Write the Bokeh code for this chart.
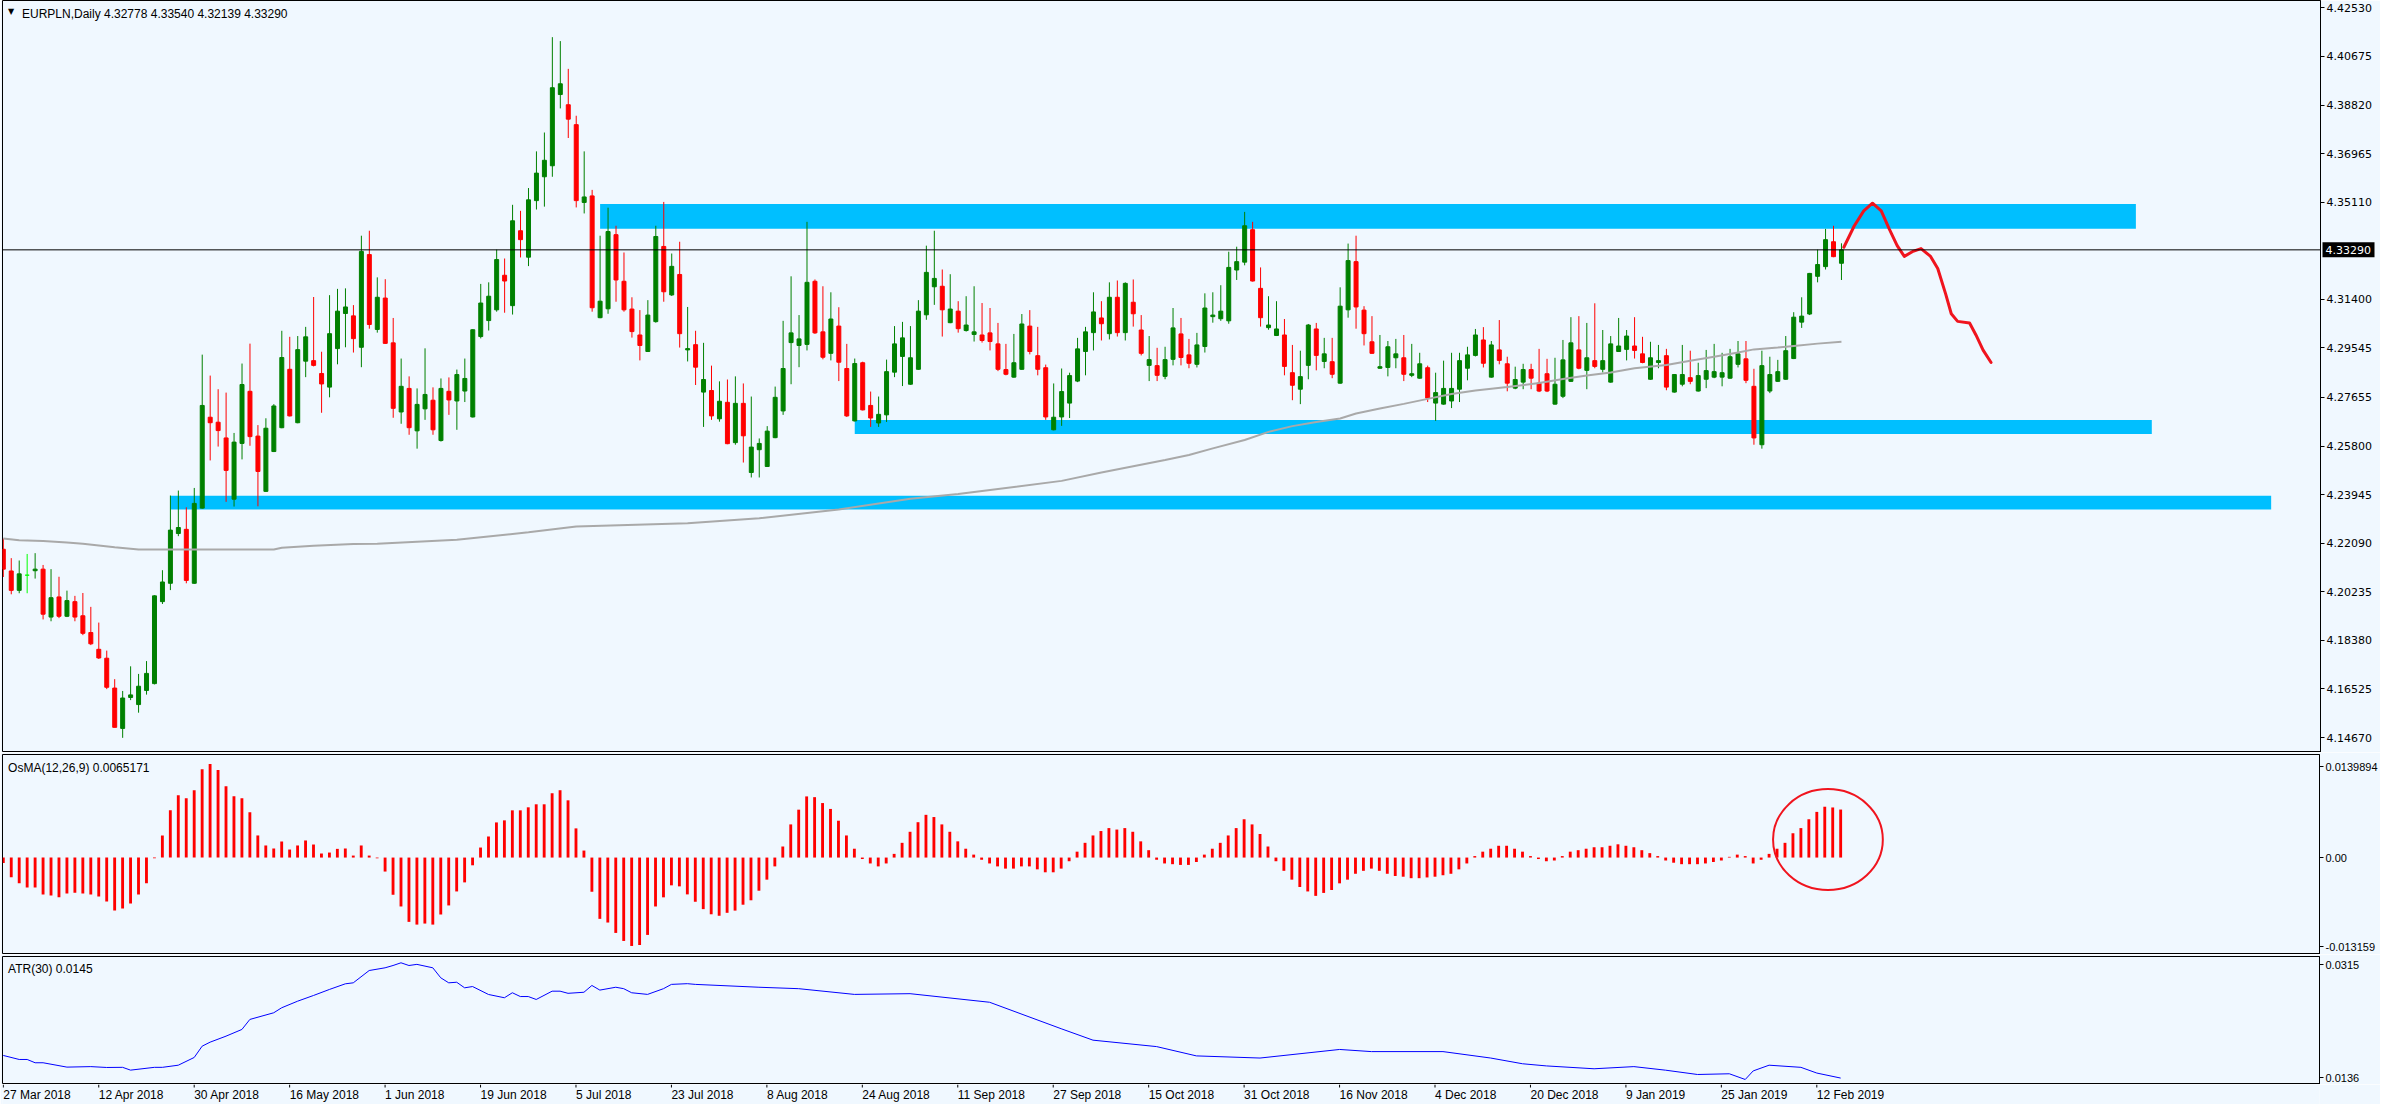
from bokeh.plotting import figure
from bokeh.layouts import column, row
from bokeh.models import (Range1d, FixedTicker, PrintfTickFormatter, Label,
                          ColumnDataSource, Span)
from bokeh.embed import file_html
from bokeh.resources import INLINE
from bokeh.core.properties import value

# ---------------- data ----------------
symbol_header = "EURPLN,Daily  4.32778 4.33540 4.32139 4.33290"
osma_header = "OsMA(12,26,9) 0.0065171"
atr_header = "ATR(30) 0.0145"
last_price = 4.33290
last_price_text = "4.33290"

opens = [4.2186, 4.2103, 4.2029, 4.2087, 4.2104, 4.2110, 4.1927, 4.2004, 4.1930, 4.1986,
         4.1932, 4.1868, 4.1804, 4.1770, 4.1656, 4.1502, 4.1620, 4.1593, 4.1647, 4.1673,
         4.1986, 4.2056, 4.2246, 4.2262, 4.2056, 4.2343, 4.2690, 4.2671, 4.2611, 4.2377,
         4.2590, 4.2789, 4.2618, 4.2407, 4.2559, 4.2650, 4.2873, 4.2669, 4.2904, 4.2906,
         4.2857, 4.2805, 4.2952, 4.3086, 4.3077, 4.2957, 4.3311, 4.3025, 4.3145, 4.2974,
         4.2710, 4.2800, 4.2638, 4.2722, 4.2755, 4.2601, 4.2789, 4.2752, 4.2790, 4.2691,
         4.2998, 4.3059, 4.3100, 4.3232, 4.3116, 4.3402, 4.3301, 4.3517, 4.3608, 4.3650,
         4.3922, 4.3883, 4.3807, 4.3510, 4.3535, 4.3070, 4.3104, 4.3387, 4.3209, 4.3103,
         4.3004, 4.2941, 4.3055, 4.3342, 4.3157, 4.3235, 4.2947, 4.2967, 4.2786, 4.2792,
         4.2684, 4.2747, 4.2593, 4.2743, 4.2479, 4.2566, 4.2502, 4.2612, 4.2714, 4.2975,
         4.2964, 4.2968, 4.3209, 4.3016, 4.2934, 4.3038, 4.2876, 4.2676, 4.2898, 4.2735,
         4.2668, 4.2699, 4.2862, 4.2922, 4.2816, 4.2873, 4.3081, 4.3188, 4.3190, 4.3051,
         4.3095, 4.3021, 4.3006, 4.3004, 4.3012, 4.2970, 4.2872, 4.2843, 4.2873, 4.3038,
         4.2925, 4.2879, 4.2642, 4.2691, 4.2744, 4.2828, 4.2941, 4.3013, 4.3069, 4.3009,
         4.3148, 4.3013, 4.3129, 4.3023, 4.2888, 4.2887, 4.2846, 4.2911, 4.3008, 4.2928,
         4.2892, 4.2960, 4.3074, 4.3066, 4.3058, 4.3252, 4.3282, 4.3406, 4.3182, 4.3032,
         4.3002, 4.3004, 4.2860, 4.2797, 4.2888, 4.3027, 4.2903, 4.2902, 4.2820, 4.3100,
         4.3284, 4.3099, 4.2978, 4.2877, 4.2880, 4.2917, 4.2917, 4.2850, 4.2839, 4.2879,
         4.2744, 4.2740, 4.2752, 4.2797, 4.2877, 4.2926, 4.2985, 4.2843, 4.2947, 4.2894,
         4.2801, 4.2824, 4.2872, 4.2820, 4.2856, 4.2740, 4.2770, 4.2827, 4.2947, 4.2869,
         4.2906, 4.2873, 4.2824, 4.2941, 4.2949, 4.2962, 4.2932, 4.2835, 4.2899, 4.2925,
         4.2786, 4.2816, 4.2841, 4.2790, 4.2835, 4.2843, 4.2843, 4.2839, 4.2892, 4.2913,
         4.2808, 4.2585, 4.2790, 4.2827, 4.2835, 4.2914, 4.3053, 4.3084, 4.3228, 4.3265,
         4.3360, 4.32778]
highs = [4.2227, 4.2152, 4.2143, 4.2168, 4.2171, 4.2126, 4.2110, 4.2081, 4.2028, 4.2008,
         4.2019, 4.1966, 4.1906, 4.1799, 4.1690, 4.1645, 4.1739, 4.1710, 4.1759, 4.2010,
         4.2106, 4.2391, 4.2410, 4.2346, 4.2420, 4.2929, 4.2849, 4.2797, 4.2784, 4.2630,
         4.2895, 4.2971, 4.2660, 4.2686, 4.2740, 4.3020, 4.2997, 4.3000, 4.3035, 4.3149,
         4.2940, 4.3156, 4.3180, 4.3182, 4.3118, 4.3383, 4.3402, 4.3224, 4.3217, 4.3069,
         4.2914, 4.2846, 4.2800, 4.2953, 4.2804, 4.2838, 4.2842, 4.2872, 4.2914, 4.3026,
         4.3199, 4.3205, 4.3330, 4.3296, 4.3501, 4.3478, 4.3565, 4.3705, 4.3777, 4.4141,
         4.4126, 4.4020, 4.3841, 4.3705, 4.3558, 4.3383, 4.3490, 4.3421, 4.3319, 4.3148,
         4.3099, 4.3137, 4.3421, 4.3512, 4.3315, 4.3360, 4.3111, 4.3020, 4.2974, 4.2887,
         4.2827, 4.2834, 4.2846, 4.2819, 4.2769, 4.2609, 4.2656, 4.2807, 4.3058, 4.3228,
         4.3080, 4.3436, 4.3216, 4.3190, 4.3167, 4.3110, 4.2970, 4.2914, 4.2902, 4.2788,
         4.2769, 4.2910, 4.3038, 4.3054, 4.3038, 4.3137, 4.3345, 4.3402, 4.3254, 4.3236,
         4.3133, 4.3152, 4.3190, 4.3126, 4.3107, 4.3050, 4.2970, 4.3008, 4.3084, 4.3099,
         4.3035, 4.2891, 4.2819, 4.2876, 4.2860, 4.2993, 4.3035, 4.3167, 4.3133, 4.3205,
         4.3212, 4.3205, 4.3216, 4.3080, 4.3000, 4.2955, 4.2959, 4.3107, 4.3069, 4.2989,
         4.3012, 4.3163, 4.3167, 4.3194, 4.3322, 4.3341, 4.3474, 4.3436, 4.3262, 4.3152,
         4.3133, 4.3065, 4.2966, 4.2944, 4.3046, 4.3050, 4.2993, 4.2993, 4.3186, 4.3353,
         4.3383, 4.3114, 4.3076, 4.3004, 4.2981, 4.2989, 4.3004, 4.2970, 4.2936, 4.2887,
         4.2860, 4.2906, 4.2936, 4.2936, 4.2959, 4.3027, 4.3034, 4.2981, 4.3061, 4.2921,
         4.2883, 4.2894, 4.2894, 4.2951, 4.2913, 4.2917, 4.2985, 4.3072, 4.3076, 4.3050,
         4.3125, 4.3023, 4.3000, 4.3069, 4.3023, 4.3072, 4.2997, 4.2978, 4.2966, 4.2951,
         4.2855, 4.2966, 4.2944, 4.2898, 4.2947, 4.2970, 4.2936, 4.2951, 4.2981, 4.2981,
         4.2875, 4.2944, 4.2921, 4.2909, 4.3000, 4.3091, 4.3148, 4.3241, 4.3330, 4.3409,
         4.3421, 4.33540]
lows = [4.2080, 4.2014, 4.2018, 4.2018, 4.2074, 4.1918, 4.1911, 4.1923, 4.1927, 4.1911,
        4.1858, 4.1820, 4.1767, 4.1652, 4.1506, 4.1466, 4.1610, 4.1562, 4.1631, 4.1670,
        4.1977, 4.2030, 4.2236, 4.2056, 4.2054, 4.2341, 4.2525, 4.2578, 4.2367, 4.2349,
        4.2529, 4.2581, 4.2350, 4.2405, 4.2557, 4.2648, 4.2693, 4.2667, 4.2843, 4.2884,
        4.2707, 4.2766, 4.2892, 4.2957, 4.2937, 4.2881, 4.3028, 4.3013, 4.2970, 4.2688,
        4.2665, 4.2623, 4.2570, 4.2680, 4.2623, 4.2597, 4.2699, 4.2642, 4.2748, 4.2689,
        4.2991, 4.3021, 4.3093, 4.3089, 4.3082, 4.3300, 4.3267, 4.3483, 4.3494, 4.3608,
        4.3869, 4.3756, 4.3491, 4.3468, 4.3093, 4.3068, 4.3085, 4.3131, 4.3093, 4.2994,
        4.2907, 4.2939, 4.3051, 4.3131, 4.3153, 4.2956, 4.2903, 4.2813, 4.2653, 4.2680,
        4.2673, 4.2587, 4.2585, 4.2517, 4.2460, 4.2460, 4.2500, 4.2610, 4.2699, 4.2816,
        4.2881, 4.2945, 4.3008, 4.2911, 4.2907, 4.2828, 4.2691, 4.2674, 4.2716, 4.2653,
        4.2653, 4.2672, 4.2843, 4.2809, 4.2814, 4.2871, 4.3062, 4.3119, 4.2998, 4.3049,
        4.3013, 4.3017, 4.2979, 4.2975, 4.2945, 4.2866, 4.2850, 4.2841, 4.2871, 4.2930,
        4.2850, 4.2680, 4.2640, 4.2657, 4.2687, 4.2824, 4.2850, 4.2945, 4.2983, 4.2987,
        4.2998, 4.2983, 4.3036, 4.2926, 4.2828, 4.2828, 4.2835, 4.2888, 4.2888, 4.2877,
        4.2880, 4.2937, 4.3051, 4.3058, 4.3047, 4.3214, 4.3270, 4.3208, 4.3036, 4.3024,
        4.3000, 4.2850, 4.2755, 4.2740, 4.2835, 4.2869, 4.2877, 4.2839, 4.2818, 4.3070,
        4.3028, 4.2964, 4.2932, 4.2875, 4.2846, 4.2877, 4.2828, 4.2843, 4.2837, 4.2748,
        4.2676, 4.2738, 4.2725, 4.2748, 4.2831, 4.2922, 4.2880, 4.2841, 4.2892, 4.2789,
        4.2797, 4.2797, 4.2797, 4.2786, 4.2786, 4.2738, 4.2763, 4.2825, 4.2873, 4.2797,
        4.2877, 4.2861, 4.2822, 4.2939, 4.2907, 4.2914, 4.2896, 4.2833, 4.2877, 4.2793,
        4.2784, 4.2808, 4.2816, 4.2788, 4.2801, 4.2839, 4.2808, 4.2837, 4.2880, 4.2820,
        4.2585, 4.2570, 4.2782, 4.2825, 4.2833, 4.2912, 4.3031, 4.3080, 4.3205, 4.3254,
        4.3301, 4.32139]
closes = [4.2110, 4.2029, 4.2092, 4.2087, 4.2110, 4.1938, 4.2001, 4.1930, 4.1990, 4.1927,
          4.1865, 4.1825, 4.1771, 4.1659, 4.1506, 4.1618, 4.1630, 4.1663, 4.1712, 4.2008,
          4.2061, 4.2259, 4.2269, 4.2067, 4.2361, 4.2735, 4.2669, 4.2639, 4.2487, 4.2595,
          4.2815, 4.2616, 4.2483, 4.2648, 4.2733, 4.2918, 4.2695, 4.2948, 4.2997, 4.2888,
          4.2817, 4.3009, 4.3095, 4.3111, 4.2990, 4.3323, 4.3044, 4.3148, 4.2972, 4.2724,
          4.2808, 4.2650, 4.2739, 4.2777, 4.2642, 4.2800, 4.2756, 4.2853, 4.2838, 4.3024,
          4.3126, 4.3152, 4.3292, 4.3210, 4.3440, 4.3368, 4.3520, 4.3622, 4.3671, 4.3948,
          4.3963, 4.3828, 4.3517, 4.3531, 4.3108, 4.3133, 4.3399, 4.3214, 4.3100, 4.3017,
          4.2964, 4.3080, 4.3380, 4.3169, 4.3266, 4.3009, 4.2952, 4.2881, 4.2834, 4.2695,
          4.2751, 4.2589, 4.2743, 4.2619, 4.2576, 4.2590, 4.2637, 4.2766, 4.2876, 4.3012,
          4.2989, 4.3205, 4.3012, 4.2919, 4.3065, 4.2900, 4.2695, 4.2895, 4.2718, 4.2687,
          4.2701, 4.2864, 4.2970, 4.2993, 4.2917, 4.3095, 4.3243, 4.3220, 4.3100, 4.3103,
          4.3028, 4.3042, 4.3016, 4.2983, 4.2979, 4.2873, 4.2854, 4.2898, 4.3046, 4.2941,
          4.2873, 4.2691, 4.2690, 4.2788, 4.2849, 4.2951, 4.3016, 4.3092, 4.3047, 4.3148,
          4.3013, 4.3201, 4.3085, 4.2934, 4.2910, 4.2850, 4.2910, 4.3031, 4.2918, 4.2896,
          4.2966, 4.3107, 4.3080, 4.3095, 4.3262, 4.3284, 4.3421, 4.3210, 4.3070, 4.3042,
          4.3027, 4.2884, 4.2812, 4.2845, 4.3042, 4.2926, 4.2932, 4.2854, 4.3114, 4.3288,
          4.3111, 4.3009, 4.2934, 4.2883, 4.2959, 4.2932, 4.2854, 4.2856, 4.2894, 4.2763,
          4.2784, 4.2800, 4.2800, 4.2906, 4.2928, 4.3004, 4.2896, 4.2966, 4.2907, 4.2820,
          4.2834, 4.2872, 4.2839, 4.2790, 4.2790, 4.2816, 4.2909, 4.2974, 4.2877, 4.2917,
          4.2884, 4.2906, 4.2970, 4.2962, 4.3000, 4.2945, 4.2899, 4.2917, 4.2906, 4.2805,
          4.2853, 4.2853, 4.2827, 4.2849, 4.2868, 4.2864, 4.2860, 4.2921, 4.2932, 4.2831,
          4.2611, 4.2887, 4.2853, 4.2864, 4.2944, 4.3072, 4.3076, 4.3239, 4.3273, 4.3368,
          4.3303, 4.33290]

# grey moving average, read at these bars
ma_bar = [0, 2, 5, 8, 10, 14, 17, 34, 35, 39, 44, 47, 57, 66, 72, 86, 95, 105, 114, 120,
          133, 138, 146, 149, 152, 156, 159, 162, 165, 168, 170, 173, 176, 179, 182, 185,
          189, 193, 196, 199, 202, 205, 209, 212, 215, 218, 220, 223, 225, 228, 231]
ma_val = [4.2227, 4.2220, 4.2217, 4.2212, 4.2207, 4.2194, 4.2185, 4.2185, 4.2192, 4.2199,
          4.2206, 4.2207, 4.2222, 4.2251, 4.2273, 4.2285, 4.2304, 4.2338, 4.2379, 4.2397,
          4.2447, 4.2479, 4.2527, 4.2546, 4.2571, 4.2603, 4.2634, 4.2656, 4.2672, 4.2685,
          4.2704, 4.2723, 4.2741, 4.2760, 4.2779, 4.2792, 4.2805, 4.2821, 4.2836, 4.2849,
          4.2861, 4.2877, 4.2889, 4.2906, 4.2921, 4.2937, 4.2949, 4.2956, 4.2962, 4.2971,
          4.2978]

# support / resistance zones (bar from, bar to, upper price, lower price)
zone_from = [75, 107, 21]
zone_to = [268, 270, 285]
zone_top = [4.3504, 4.2679, 4.2390]
zone_bottom = [4.3410, 4.2626, 4.2338]

# hand-drawn forecast path
fc_bar = [231.3, 232.6, 233.8, 234.9, 236.0, 237.0, 238.0, 238.9, 239.9, 241.0, 242.2,
          243.1, 244.1, 244.8, 245.6, 247.1, 247.9, 248.8, 249.8]
fc_price = [4.3339, 4.3420, 4.3478, 4.3507, 4.3478, 4.3409, 4.3345, 4.3304, 4.3322,
            4.3334, 4.3304, 4.3258, 4.3160, 4.3085, 4.3056, 4.3050, 4.3004, 4.2946, 4.2899]

osma = [-0.00073, -0.00268, -0.0035, -0.00405, -0.00405, -0.0050, -0.00514, -0.0054, -0.00487, -0.00477,
        -0.00487, -0.0050, -0.00527, -0.00596, -0.00718, -0.0069, -0.00623, -0.0050, -0.0035, -0.0001,
        0.0030, 0.00641, 0.00846, 0.00805, 0.00914, 0.0120, 0.01269, 0.01187, 0.00968, 0.00832,
        0.00805, 0.00614, 0.0030, 0.00164, 0.00123, 0.00218, 0.00109, 0.00164, 0.00232, 0.00177,
        0.00055, 0.00068, 0.00118, 0.00123, 0.00027, 0.00164, 0.00027, -0.0001, -0.0019, -0.00505,
        -0.00664, -0.00873, -0.0091, -0.00896, -0.0091, -0.00773, -0.0065, -0.0046, -0.00337, -0.00105,
        0.00136, 0.00286, 0.00477, 0.00505, 0.00641, 0.00641, 0.00682, 0.00723, 0.00723, 0.00873,
        0.00914, 0.00777, 0.00396, 0.00095, -0.00464, -0.00832, -0.00882, -0.01023, -0.01132, -0.0120,
        -0.01187, -0.0105, -0.00664, -0.0054, -0.00377, -0.00391, -0.0050, -0.0060, -0.0070, -0.0077,
        -0.0079, -0.0075, -0.0072, -0.0064, -0.0058, -0.0045, -0.0030, -0.0012, 0.0015, 0.0045,
        0.0065, 0.0083, 0.0082, 0.0074, 0.0066, 0.0050, 0.0030, 0.0012, -0.0002, -0.0008,
        -0.0012, -0.0008, 0.0005, 0.0020, 0.0035, 0.0048, 0.0058, 0.0055, 0.0045, 0.0035,
        0.0022, 0.0012, 0.0004, -0.0003, -0.0008, -0.0012, -0.0015, -0.0015, -0.0012, -0.0012,
        -0.0016, -0.0020, -0.0020, -0.0015, -0.0005, 0.0008, 0.0020, 0.0030, 0.0036, 0.0040,
        0.0038, 0.0040, 0.0035, 0.0022, 0.0010, -0.0003, -0.0008, -0.0009, -0.0010, -0.0010,
        -0.0006, 0.0004, 0.0012, 0.0020, 0.0030, 0.0040, 0.0052, 0.0045, 0.0032, 0.0015,
        -0.0005, -0.0018, -0.0030, -0.0040, -0.0046, -0.0052, -0.0048, -0.0044, -0.0035, -0.0030,
        -0.0022, -0.0018, -0.0015, -0.0018, -0.0022, -0.0025, -0.0026, -0.0028, -0.0028, -0.0027,
        -0.0026, -0.0024, -0.0022, -0.0016, -0.0008, 0.0002, 0.0008, 0.0012, 0.0016, 0.0016,
        0.0012, 0.0008, 0.0002, -0.0002, -0.0005, -0.0004, 0.0002, 0.0008, 0.0010, 0.0012,
        0.0014, 0.0014, 0.0016, 0.0018, 0.0016, 0.0014, 0.0010, 0.0006, 0.0002, -0.0004,
        -0.0007, -0.0009, -0.0009, -0.0009, -0.0008, -0.0006, -0.0004, 0.0001, 0.0004, 0.0002,
        -0.0008, -0.0003, 0.0005, 0.0012, 0.0020, 0.0033, 0.0040, 0.0052, 0.0062, 0.0069,
        0.0068, 0.0065171]

# highlight ellipse in the OsMA pane (centre bar, centre value, width in bars, height in value)
circle_bar = 229.4
circle_val = 0.00244
circle_w = 13.8
circle_h = 0.0137

atr_bar = [0, 2, 3, 4, 5, 8, 11, 13, 15, 16, 19, 20, 22, 24, 25, 26, 28, 30, 31, 34, 35, 37,
           39, 41, 43, 44, 46, 48, 49, 50, 51, 52, 54, 55, 56, 57, 58, 59, 61, 63, 64, 65, 66,
           67, 69, 70, 71, 73, 74, 75, 77, 78, 79, 81, 83, 84, 86, 87, 95, 100, 107, 114, 124,
           133, 137, 145, 150, 158, 168, 172, 181, 187, 191, 194, 200, 205, 209, 213, 217,
           219, 220, 222, 226, 228, 231]
atr_val = [0.01766, 0.0171, 0.0171, 0.01664, 0.01664, 0.01603, 0.0161, 0.01598, 0.0160,
           0.01561, 0.0160, 0.0160, 0.0163, 0.01738, 0.01896, 0.01952, 0.02036, 0.0213,
           0.0227, 0.02363, 0.02433, 0.02525, 0.02605, 0.02689, 0.02768, 0.02782, 0.02954,
           0.02992, 0.03024, 0.03062, 0.03024, 0.0304, 0.02992, 0.02852, 0.02782, 0.0279,
           0.02712, 0.0273, 0.02619, 0.02573, 0.02643, 0.0259, 0.0259, 0.02549, 0.02665,
           0.02665, 0.02635, 0.0265, 0.02745, 0.0268, 0.0272, 0.0270, 0.02643, 0.0262,
           0.0270, 0.0276, 0.0277, 0.0276, 0.0272, 0.0270, 0.0262, 0.0263, 0.0251, 0.0214,
           0.0198, 0.0189, 0.0176, 0.0173, 0.0185, 0.0182, 0.0182, 0.0173, 0.0165, 0.0162,
           0.0158, 0.0161, 0.0156, 0.0150, 0.0151, 0.0143, 0.0155, 0.0163, 0.0160, 0.0152,
           0.0145]

tick_bars = [0, 12, 24, 36, 48, 60, 72, 84, 96, 108, 120, 132, 144, 156, 168, 180, 192,
             204, 216, 228]
tick_labels = ["27 Mar 2018", "12 Apr 2018", "30 Apr 2018", "16 May 2018", "1 Jun 2018",
               "19 Jun 2018", "5 Jul 2018", "23 Jul 2018", "8 Aug 2018", "24 Aug 2018",
               "11 Sep 2018", "27 Sep 2018", "15 Oct 2018", "31 Oct 2018", "16 Nov 2018",
               "4 Dec 2018", "20 Dec 2018", "9 Jan 2019", "25 Jan 2019", "12 Feb 2019"]
price_ticks = [4.42530, 4.40675, 4.38820, 4.36965, 4.35110, 4.31400, 4.29545, 4.27655,
               4.25800, 4.23945, 4.22090, 4.20235, 4.18380, 4.16525, 4.14670]
osma_max, osma_min = 0.0139894, -0.013159
atr_max, atr_min = 0.0315, 0.0136

# ---------------- layout / style ----------------
BG = "#F0F8FF"
W = 2380
BL, BR = 2, 60
MAIN_H, OSMA_H, ATR_H, DATE_H = 752, 200, 128, 20
TXT = "Liberation Sans"

xr = Range1d(-0.1, 291.2)


def pane(height, yr, top=2, bottom=0):
    f = figure(width=W, height=height, x_range=xr, y_range=yr, output_backend="svg",
               toolbar_location=None, y_axis_location="right", x_axis_location=None,
               min_border_left=BL, min_border_right=BR, min_border_top=top,
               min_border_bottom=bottom, background_fill_color=BG, border_fill_color=BG)
    f.xgrid.visible = False
    f.ygrid.visible = False
    f.outline_line_color = "black"
    f.outline_line_width = 1
    ax = f.yaxis[0]
    ax.axis_line_color = "black"
    ax.major_tick_out = 4
    ax.major_tick_in = 0
    ax.minor_tick_out = 0
    ax.minor_tick_in = 0
    ax.major_label_standoff = 2
    ax.major_label_text_color = "black"
    return f


def from_top(rng, h, px):
    return rng.end - px * (rng.end - rng.start) / h


# ---- main price pane
yr_main = Range1d(4.1410, 4.4281)
p = pane(MAIN_H, yr_main, top=0)
p.yaxis.ticker = FixedTicker(ticks=price_ticks)
p.yaxis.formatter = PrintfTickFormatter(format="%.5f")
p.yaxis.major_label_text_font = "DejaVu Sans"
p.yaxis.major_label_text_font_size = "11px"

p.quad(left=zone_from, right=zone_to, top=zone_top, bottom=zone_bottom,
       fill_color="#00BFFF", line_color=None)

bars = list(range(len(closes)))
colors = ["#008000" if c > o else ("#FF0000" if c < o else "#00FF00")
          for o, c in zip(opens, closes)]
src = ColumnDataSource(dict(x=bars, h=highs, l=lows,
                            top=[max(o, c) for o, c in zip(opens, closes)],
                            bot=[min(o, c) for o, c in zip(opens, closes)],
                            color=colors))
p.segment(x0="x", y0="l", x1="x", y1="h", line_color="color", line_width=1, source=src)
p.vbar(x="x", width=0.5, top="top", bottom="bot", fill_color="color",
       line_color="color", line_width=1, source=src)

p.line(ma_bar, ma_val, line_color="#A9A9A9", line_width=2)
p.add_layout(Span(location=last_price, dimension="width", line_color="black", line_width=1))
p.line(fc_bar, fc_price, line_color="#F0141E", line_width=3, line_join="round",
       line_cap="round")

p.add_layout(Label(x=0.6, y=from_top(yr_main, MAIN_H, 6), text="\u25BC",
                   text_font="DejaVu Sans", text_font_size="8px", text_baseline="top",
                   text_color="black"))
p.add_layout(Label(x=2.35, y=from_top(yr_main, MAIN_H, 6), text=symbol_header,
                   text_font=TXT, text_font_size="12px", text_baseline="top",
                   text_color="black"))

# current-price marker sitting over the price scale (transparent overlay figure)
bx = figure(width=BR, height=MAIN_H, x_range=Range1d(0, BR), y_range=yr_main,
            output_backend="svg", toolbar_location=None, x_axis_location=None,
            y_axis_location=None, min_border_left=0, min_border_right=0,
            min_border_top=0, min_border_bottom=0, background_fill_color=None,
            border_fill_color=None, outline_line_color=None, margin=(0, 0, 0, -BR))
bx.xgrid.visible = False
bx.ygrid.visible = False
half = 7.5 * (yr_main.end - yr_main.start) / MAIN_H
bx.quad(left=[2], right=[54], top=[last_price + half], bottom=[last_price - half],
        fill_color="black", line_color=None)
bx.text(x=[5], y=[last_price], text=[last_price_text], text_color="white",
        text_font=value("DejaVu Sans"), text_font_size=value("11px"),
        text_baseline="middle", text_align="left")

# ---- OsMA pane
yr_osma = Range1d(osma_min, osma_max)
q = pane(OSMA_H + 2, yr_osma)
osma_top_tick = from_top(yr_osma, OSMA_H, 12)
osma_bot_tick = from_top(yr_osma, OSMA_H, OSMA_H - 8)
q.yaxis.ticker = FixedTicker(ticks=[osma_top_tick, 0.0, osma_bot_tick])
q.yaxis.major_label_overrides = {osma_top_tick: "0.0139894", 0.0: "0.00",
                                 osma_bot_tick: "-0.013159"}
q.yaxis.major_label_text_font = TXT
q.yaxis.major_label_text_font_size = "11px"
q.vbar(x=bars, top=osma, bottom=0, width=0.36, fill_color="#FF0000", line_color=None)
q.ellipse(x=[circle_bar], y=[circle_val], width=circle_w, height=circle_h,
          fill_color=None, line_color="#F0141E", line_width=2)
q.add_layout(Label(x=0.6, y=from_top(yr_osma, OSMA_H, 6), text=osma_header,
                   text_font=TXT, text_font_size="12px", text_baseline="top",
                   text_color="black"))

# ---- ATR pane
yr_atr = Range1d(atr_min, atr_max)
r = pane(ATR_H + 2, yr_atr)
atr_top_tick = from_top(yr_atr, ATR_H, 8)
atr_bot_tick = from_top(yr_atr, ATR_H, ATR_H - 7)
r.yaxis.ticker = FixedTicker(ticks=[atr_top_tick, atr_bot_tick])
r.yaxis.major_label_overrides = {atr_top_tick: "0.0315", atr_bot_tick: "0.0136"}
r.yaxis.major_label_text_font = TXT
r.yaxis.major_label_text_font_size = "11px"
r.line(atr_bar, atr_val, line_color="#0000FF", line_width=1)
r.add_layout(Label(x=0.6, y=from_top(yr_atr, ATR_H, 5), text=atr_header,
                   text_font=TXT, text_font_size="12px", text_baseline="top",
                   text_color="black"))

# ---- date scale strip
d = figure(width=W, height=DATE_H, x_range=xr, y_range=Range1d(0, DATE_H),
           output_backend="svg", toolbar_location=None, x_axis_location=None,
           y_axis_location=None, min_border_left=BL, min_border_right=BR,
           min_border_top=0, min_border_bottom=0, background_fill_color=BG,
           border_fill_color=BG, outline_line_color=None)
d.xgrid.visible = False
d.ygrid.visible = False
d.segment(x0=tick_bars, y0=[DATE_H] * len(tick_bars), x1=tick_bars,
          y1=[DATE_H - 3] * len(tick_bars), line_color="black", line_width=1)
d.text(x=tick_bars, y=[DATE_H - 3] * len(tick_bars), text=tick_labels,
       text_font=value(TXT), text_font_size=value("12px"), text_color="black",
       text_align="left", text_baseline="top")

layout = column(row(p, bx, spacing=0), q, r, d, spacing=0)
open("out.html", "w").write(file_html(layout, INLINE))
